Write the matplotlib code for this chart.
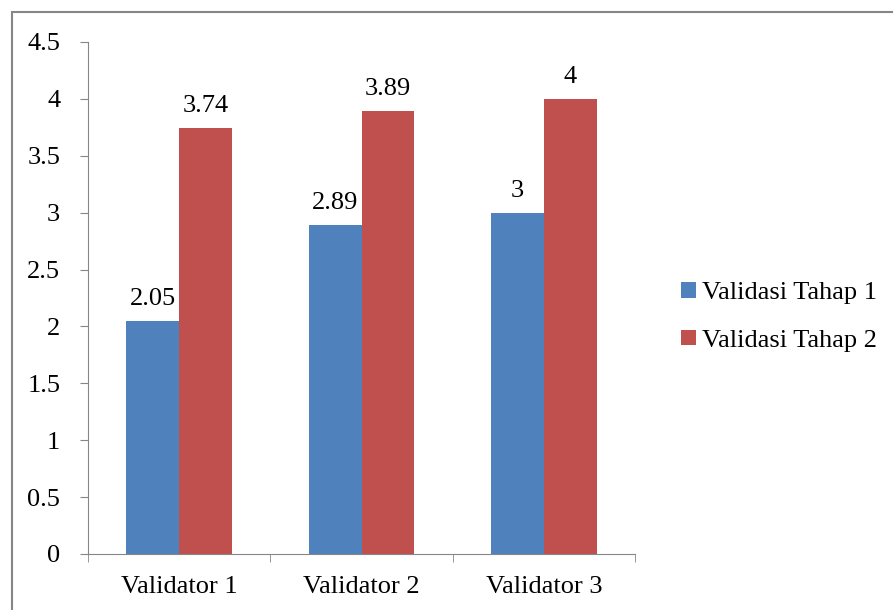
import numpy as np
import matplotlib.pyplot as plt
from matplotlib.patches import Rectangle

plt.rcParams['font.family'] = ['Liberation Serif', 'DejaVu Serif']

categories = ['Validator 1', 'Validator 2', 'Validator 3']
tahap1 = [2.05, 2.89, 3]
tahap2 = [3.74, 3.89, 4]
series_names = ['Validasi Tahap 1', 'Validasi Tahap 2']
colors = ['#4F81BD', '#C0504D']
yticks = [0, 0.5, 1, 1.5, 2, 2.5, 3, 3.5, 4, 4.5]
ytick_labels = ['0', '0.5', '1', '1.5', '2', '2.5', '3', '3.5', '4', '4.5']

FS = 19
W, H = 893, 610
fig = plt.figure(figsize=(W / 100, H / 100), dpi=100)
# plot area in pixels: left 88, right 635, top 42, bottom 554
ax = fig.add_axes([88 / W, 1 - 554 / H, (635 - 88) / W, (554 - 42) / H])

# outer chart frame (runs off the right and bottom edges)
fig.patches.append(Rectangle((12 / W, -0.1), 1.2, 1 - 12 / H + 0.1,
                             transform=fig.transFigure, fill=False,
                             edgecolor='#868686', linewidth=1.5))

x = np.arange(len(categories))
w = 0.29
b1 = ax.bar(x - w / 2, tahap1, w, color=colors[0], label=series_names[0])
b2 = ax.bar(x + w / 2, tahap2, w, color=colors[1], label=series_names[1])

for bars, vals in ((b1, tahap1), (b2, tahap2)):
    for rect, v in zip(bars, vals):
        ax.annotate(f'{v:g}', (rect.get_x() + rect.get_width() / 2, v),
                    textcoords='offset points', xytext=(0, 8),
                    ha='center', va='bottom', fontsize=FS)

ax.set_xlim(-0.5, 2.5)
ax.set_ylim(0, 4.5)
ax.set_yticks(yticks)
ax.set_yticklabels(ytick_labels, fontsize=FS)
ax.set_xticks(x)
ax.set_xticklabels(categories, fontsize=FS)
ax.tick_params(axis='x', length=0, pad=16)
ax.set_xticks([-0.5, 0.5, 1.5, 2.5], minor=True)
ax.tick_params(axis='x', which='minor', length=6, color='#868686')
ax.tick_params(axis='y', length=6, color='#868686', pad=14)

for s in ('top', 'right'):
    ax.spines[s].set_visible(False)
for s in ('left', 'bottom'):
    ax.spines[s].set_color('#868686')

ax.legend(loc='center left', bbox_to_anchor=(668 / W, 1 - 317 / H),
          bbox_transform=fig.transFigure, frameon=False, fontsize=FS,
          handlelength=0.55, handleheight=0.55, handletextpad=0.25,
          labelspacing=0.95, borderpad=0)

fig.savefig('out.png', dpi=100)
